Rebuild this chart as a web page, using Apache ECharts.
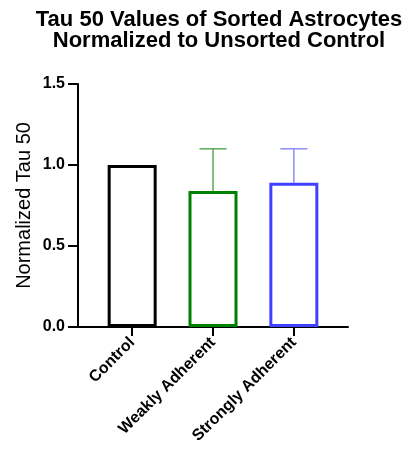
<!DOCTYPE html>
<html>
<head>
<meta charset="utf-8">
<script src="https://cdn.jsdelivr.net/npm/echarts@6/dist/echarts.min.js"></script>
<style>
html,body{margin:0;padding:0;background:#fff;}
#chart{width:414px;height:473px;}
</style>
</head>
<body>
<div id="chart"></div>
<script>
const categories = ["Control", "Weakly Adherent", "Strongly Adherent"];
const means = [1.00, 0.84, 0.89];
const errorTops = [null, 1.10, 1.10];
const barColors = ["#000000", "#008000", "#4040ff"];
const errorColors = ["#000000", "#5aaa5a", "#8c8cff"];
const yTicks = [0, 0.5, 1.0, 1.5];

const FONT = "'Liberation Sans', Arial, sans-serif";
const chart = echarts.init(document.getElementById('chart'), null, {renderer: 'canvas'});

const barData = categories.map((c, i) => ({
  value: [i, means[i]],
  itemStyle: {color: '#ffffff', borderColor: barColors[i], borderWidth: 3}
}));
const errData = categories.map((c, i) => errorTops[i] == null ? null : [i, means[i], errorTops[i]]).filter(d => d);

chart.setOption({
  animation: false,
  backgroundColor: '#ffffff',
  title: {
    text: 'Tau 50 Values of Sorted Astrocytes\nNormalized to Unsorted Control',
    left: 214, top: 4, textAlign: 'center',
    textStyle: {fontFamily: FONT, fontSize: 22, fontWeight: 'bold', color: '#000', lineHeight: 21}
  },
  grid: {left: 78, right: 66, top: 84, bottom: 146},
  xAxis: {
    type: 'value', min: -0.67, max: 2.67,
    splitLine: {show: false},
    axisLine: {show: true, onZero: false, lineStyle: {color: '#000', width: 2}},
    axisTick: {show: true, customValues: [0, 1, 2], length: 9, lineStyle: {color: '#000', width: 2}},
    axisLabel: {
      customValues: [0, 1, 2], rotate: 45, margin: 13,
      fontFamily: FONT, fontSize: 16, fontWeight: 'bold', color: '#000',
      formatter: v => categories[Math.round(v)]
    }
  },
  yAxis: {
    type: 'value', min: 0, max: 1.5, interval: 0.5,
    name: 'Normalized Tau 50', nameLocation: 'middle', nameGap: 44, nameMoveOverlap: false,
    nameTextStyle: {fontFamily: FONT, fontSize: 20, color: '#000'},
    splitLine: {show: false},
    axisLine: {show: true, onZero: false, lineStyle: {color: '#000', width: 2}},
    axisTick: {show: true, length: 10, lineStyle: {color: '#000', width: 2}},
    axisLabel: {
      margin: 13, fontFamily: FONT, fontSize: 16, fontWeight: 'bold', color: '#000',
      formatter: v => yTicks.includes(v) ? v.toFixed(1) : ''
    }
  },
  series: [
    {
      type: 'bar', data: barData, barWidth: 49, z: 2
    },
    {
      type: 'custom', z: 1,
      data: errData,
      renderItem: function (params, api) {
        const i = api.value(0);
        const lo = api.coord([i, api.value(1)]);
        const hi = api.coord([i, api.value(2)]);
        const half = 13.5;
        const col = errorColors[i];
        return {
          type: 'group',
          children: [
            {type: 'line', shape: {x1: lo[0], y1: lo[1], x2: hi[0], y2: hi[1]}, style: {stroke: col, lineWidth: 1.5}},
            {type: 'line', shape: {x1: hi[0] - half, y1: hi[1], x2: hi[0] + half, y2: hi[1]}, style: {stroke: col, lineWidth: 1.5}}
          ]
        };
      }
    }
  ]
});
</script>
</body>
</html>
